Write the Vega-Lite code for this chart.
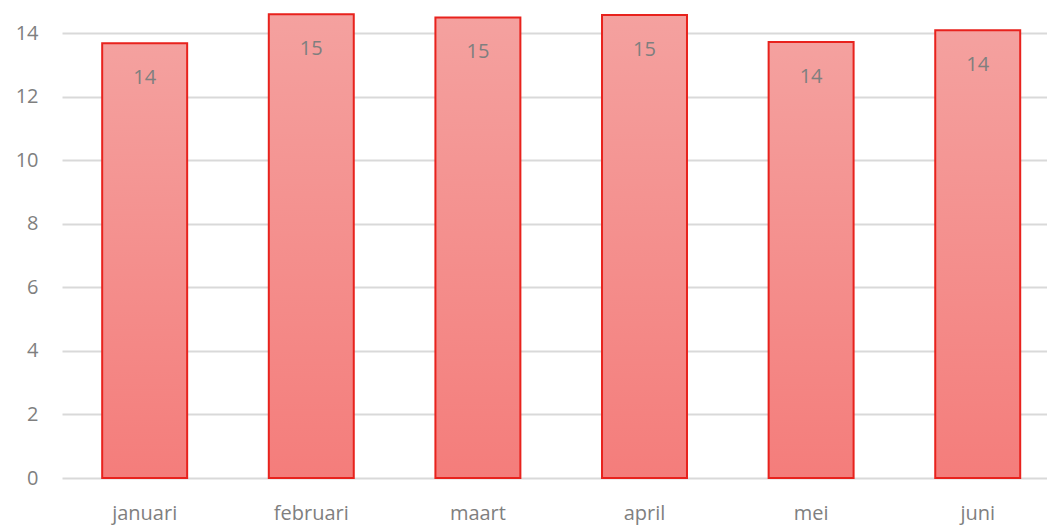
{
  "$schema": "https://vega.github.io/schema/vega-lite/v6.json",
  "autosize": {"type": "none"},
  "padding": {"left": 62, "top": 0, "right": 0, "bottom": 48},
  "width": 985,
  "height": 478,
  "background": "white",
  "config": {"view": {"stroke": null}, "font": "Open Sans"},
  "data": {"values": [
    {"maand": "januari", "waarde": 13.69},
    {"maand": "februari", "waarde": 14.6},
    {"maand": "maart", "waarde": 14.5},
    {"maand": "april", "waarde": 14.58},
    {"maand": "mei", "waarde": 13.73},
    {"maand": "juni", "waarde": 14.1}
  ]},
  "encoding": {
    "x": {"field": "maand", "type": "nominal", "sort": null,
      "scale": {"paddingInner": 0.49, "paddingOuter": 0.201, "align": 0.6},
      "axis": {"title": null, "domain": false, "ticks": false, "labelAngle": 0, "labelFontSize": 20, "labelColor": "#7f7f7f", "labelPadding": 25, "labelFont": "Open Sans"}},
    "y": {"field": "waarde", "type": "quantitative",
      "scale": {"domain": [0, 15.05], "nice": false, "zero": true},
      "axis": {"title": null, "domain": false, "ticks": false, "values": [0, 2, 4, 6, 8, 10, 12, 14], "grid": true, "gridColor": "#d9d9d9", "gridWidth": 2, "labelFontSize": 20, "labelColor": "#7f7f7f", "labelPadding": 24, "labelFont": "Open Sans"}}
  },
  "layer": [
    {"mark": {"type": "bar", "stroke": "#e8221d", "strokeWidth": 2,
      "fill": {"gradient": "linear", "x1": 0, "y1": 0, "x2": 0, "y2": 1,
        "stops": [{"offset": 0, "color": "#f4a19f"}, {"offset": 1, "color": "#f47d7b"}]}}},
    {"mark": {"type": "text", "baseline": "middle", "dy": 35, "fontSize": 20, "color": "#7f7f7f", "font": "Open Sans"},
      "encoding": {"text": {"field": "waarde", "type": "quantitative", "format": ".0f"}}}
  ]
}
